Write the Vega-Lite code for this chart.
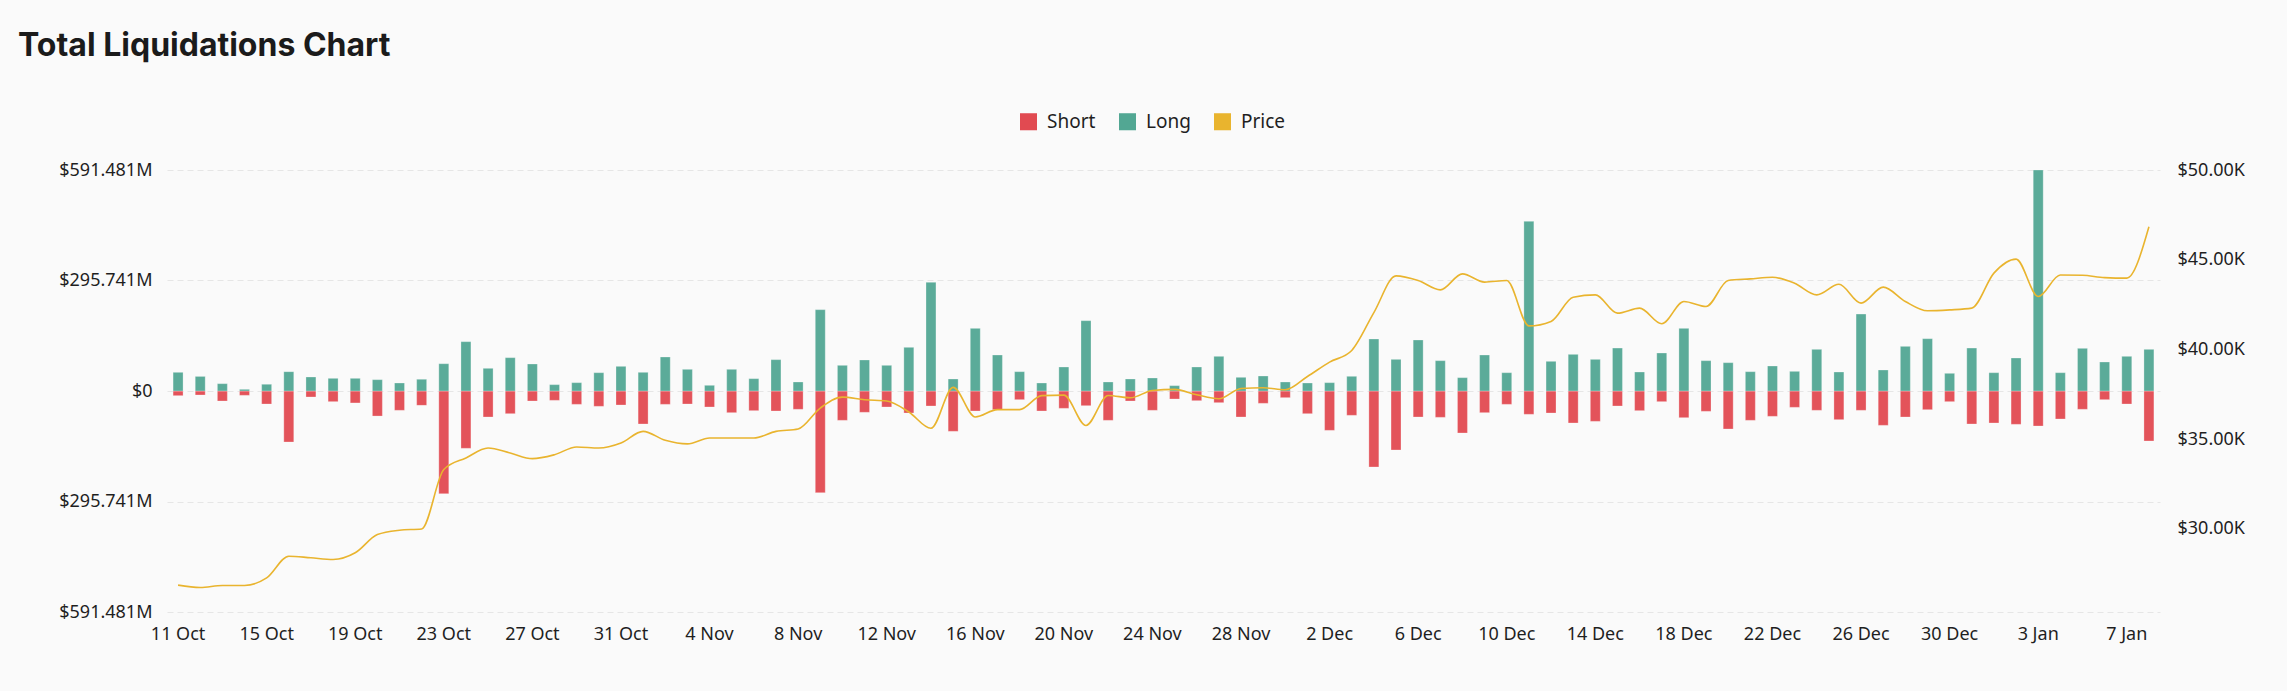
{
  "$schema": "https://vega.github.io/schema/vega-lite/v6.json",
  "background": "#FAFAFA",
  "autosize": {"type": "none"},
  "padding": {"left": 167, "top": 170, "right": 127, "bottom": 79},
  "width": 1993,
  "height": 442,
  "title": {
    "text": "Total Liquidations Chart",
    "anchor": "start",
    "frame": "group",
    "dx": -149,
    "offset": 49,
    "font": "Inter",
    "fontSize": 32,
    "fontWeight": "bold",
    "color": "#1b1b1b"
  },
  "data": {
    "values": [
      {"date": "11 Oct", "Long": 50, "Short": -12.5, "price": 26860},
      {"date": "12 Oct", "Long": 39, "Short": -10.7, "price": 26730},
      {"date": "13 Oct", "Long": 19.6, "Short": -26.8, "price": 26840},
      {"date": "14 Oct", "Long": 4.5, "Short": -11.6, "price": 26840},
      {"date": "15 Oct", "Long": 17.8, "Short": -34.8, "price": 27260},
      {"date": "16 Oct", "Long": 51.7, "Short": -136.5, "price": 28470},
      {"date": "17 Oct", "Long": 37.5, "Short": -16, "price": 28380},
      {"date": "18 Oct", "Long": 33.9, "Short": -28.5, "price": 28290},
      {"date": "19 Oct", "Long": 33.9, "Short": -32, "price": 28660},
      {"date": "20 Oct", "Long": 30.3, "Short": -67, "price": 29680},
      {"date": "21 Oct", "Long": 21.4, "Short": -51.7, "price": 29920},
      {"date": "22 Oct", "Long": 31.2, "Short": -38.4, "price": 29990},
      {"date": "23 Oct", "Long": 73, "Short": -274.8, "price": 33300},
      {"date": "24 Oct", "Long": 132, "Short": -153.4, "price": 33950},
      {"date": "25 Oct", "Long": 60.7, "Short": -69.6, "price": 34500},
      {"date": "26 Oct", "Long": 89.2, "Short": -60.7, "price": 34220},
      {"date": "27 Oct", "Long": 72.3, "Short": -26.8, "price": 33910},
      {"date": "28 Oct", "Long": 17, "Short": -25, "price": 34130},
      {"date": "29 Oct", "Long": 22.3, "Short": -35.7, "price": 34560},
      {"date": "30 Oct", "Long": 49, "Short": -41, "price": 34500},
      {"date": "31 Oct", "Long": 66, "Short": -37.5, "price": 34780},
      {"date": "1 Nov", "Long": 50, "Short": -88.3, "price": 35430},
      {"date": "2 Nov", "Long": 91, "Short": -35.7, "price": 34930},
      {"date": "3 Nov", "Long": 58, "Short": -34.8, "price": 34730},
      {"date": "4 Nov", "Long": 15.2, "Short": -42.8, "price": 35060},
      {"date": "5 Nov", "Long": 58, "Short": -58, "price": 35060},
      {"date": "6 Nov", "Long": 33, "Short": -52.6, "price": 35060},
      {"date": "7 Nov", "Long": 83.9, "Short": -53.5, "price": 35430},
      {"date": "8 Nov", "Long": 24.1, "Short": -49, "price": 35560},
      {"date": "9 Nov", "Long": 217.7, "Short": -272, "price": 36730},
      {"date": "10 Nov", "Long": 68.7, "Short": -78.5, "price": 37340},
      {"date": "11 Nov", "Long": 83, "Short": -57, "price": 37190},
      {"date": "12 Nov", "Long": 68.7, "Short": -42.8, "price": 37120},
      {"date": "13 Nov", "Long": 116.9, "Short": -58.9, "price": 36510},
      {"date": "14 Nov", "Long": 290.8, "Short": -40.1, "price": 35600},
      {"date": "15 Nov", "Long": 32.1, "Short": -107.9, "price": 37880},
      {"date": "16 Nov", "Long": 167.7, "Short": -53.5, "price": 36230},
      {"date": "17 Nov", "Long": 96.3, "Short": -50, "price": 36640},
      {"date": "18 Nov", "Long": 51.7, "Short": -23.2, "price": 36640},
      {"date": "19 Nov", "Long": 21.4, "Short": -53.5, "price": 37420},
      {"date": "20 Nov", "Long": 64.2, "Short": -46.4, "price": 37450},
      {"date": "21 Nov", "Long": 188.2, "Short": -39.3, "price": 35760},
      {"date": "22 Nov", "Long": 24.1, "Short": -78.5, "price": 37430},
      {"date": "23 Nov", "Long": 32.1, "Short": -26.8, "price": 37300},
      {"date": "24 Nov", "Long": 34.8, "Short": -51.7, "price": 37710},
      {"date": "25 Nov", "Long": 14.3, "Short": -21.4, "price": 37770},
      {"date": "26 Nov", "Long": 64.2, "Short": -25.9, "price": 37470},
      {"date": "27 Nov", "Long": 92.8, "Short": -31.2, "price": 37250},
      {"date": "28 Nov", "Long": 36.6, "Short": -69.6, "price": 37820},
      {"date": "29 Nov", "Long": 40.1, "Short": -33, "price": 37860},
      {"date": "30 Nov", "Long": 24.1, "Short": -17.8, "price": 37750},
      {"date": "1 Dec", "Long": 21.4, "Short": -60.7, "price": 38490},
      {"date": "2 Dec", "Long": 22.3, "Short": -105.3, "price": 39290},
      {"date": "3 Dec", "Long": 39.3, "Short": -65.1, "price": 39940},
      {"date": "4 Dec", "Long": 139.2, "Short": -203.4, "price": 42050},
      {"date": "5 Dec", "Long": 84.7, "Short": -157.9, "price": 44100},
      {"date": "6 Dec", "Long": 136.5, "Short": -69.6, "price": 43840},
      {"date": "7 Dec", "Long": 81.2, "Short": -70.5, "price": 43320},
      {"date": "8 Dec", "Long": 35.7, "Short": -112.4, "price": 44210},
      {"date": "9 Dec", "Long": 96.3, "Short": -58, "price": 43750},
      {"date": "10 Dec", "Long": 49, "Short": -35.7, "price": 43840},
      {"date": "11 Dec", "Long": 454, "Short": -62.4, "price": 41310},
      {"date": "12 Dec", "Long": 79.4, "Short": -58.9, "price": 41560},
      {"date": "13 Dec", "Long": 98.1, "Short": -85.6, "price": 42910},
      {"date": "14 Dec", "Long": 84.7, "Short": -81.2, "price": 43040},
      {"date": "15 Dec", "Long": 115, "Short": -40.1, "price": 42020},
      {"date": "16 Dec", "Long": 50.8, "Short": -52.6, "price": 42300},
      {"date": "17 Dec", "Long": 101.7, "Short": -28.5, "price": 41430},
      {"date": "18 Dec", "Long": 167.7, "Short": -71.4, "price": 42670},
      {"date": "19 Dec", "Long": 81.2, "Short": -54.4, "price": 42390},
      {"date": "20 Dec", "Long": 75.8, "Short": -101.7, "price": 43840},
      {"date": "21 Dec", "Long": 51.7, "Short": -78.5, "price": 43930},
      {"date": "22 Dec", "Long": 66.9, "Short": -67.8, "price": 44020},
      {"date": "23 Dec", "Long": 52.6, "Short": -43.7, "price": 43690},
      {"date": "24 Dec", "Long": 111.5, "Short": -51.7, "price": 43040},
      {"date": "25 Dec", "Long": 50.8, "Short": -76.7, "price": 43630},
      {"date": "26 Dec", "Long": 206, "Short": -51.7, "price": 42580},
      {"date": "27 Dec", "Long": 56.2, "Short": -91.9, "price": 43470},
      {"date": "28 Dec", "Long": 119.5, "Short": -69.6, "price": 42670},
      {"date": "29 Dec", "Long": 140, "Short": -50, "price": 42150},
      {"date": "30 Dec", "Long": 47.3, "Short": -28.5, "price": 42200},
      {"date": "31 Dec", "Long": 115, "Short": -88.3, "price": 42300},
      {"date": "1 Jan", "Long": 49, "Short": -85.6, "price": 44250},
      {"date": "2 Jan", "Long": 88.3, "Short": -89.2, "price": 45030},
      {"date": "3 Jan", "Long": 591.481, "Short": -93.7, "price": 42950},
      {"date": "4 Jan", "Long": 49, "Short": -74.9, "price": 44150},
      {"date": "5 Jan", "Long": 114.2, "Short": -49, "price": 44130},
      {"date": "6 Jan", "Long": 77.6, "Short": -23.2, "price": 44000},
      {"date": "7 Jan", "Long": 92.8, "Short": -34.8, "price": 43970},
      {"date": "8 Jan", "Long": 111.5, "Short": -133.8, "price": 46840}
    ]
  },
  "encoding": {
    "x": {
      "field": "date",
      "type": "ordinal",
      "sort": null,
      "title": null,
      "scale": {"paddingInner": 0.55, "paddingOuter": 0.275},
      "axis": {
        "values": ["11 Oct", "15 Oct", "19 Oct", "23 Oct", "27 Oct", "31 Oct", "4 Nov", "8 Nov", "12 Nov", "16 Nov", "20 Nov", "24 Nov", "28 Nov", "2 Dec", "6 Dec", "10 Dec", "14 Dec", "18 Dec", "22 Dec", "26 Dec", "30 Dec", "3 Jan", "7 Jan"],
        "labelAngle": 0,
        "domain": false,
        "ticks": false,
        "grid": false,
        "labelPadding": 13
      }
    }
  },
  "layer": [
    {
      "transform": [{"fold": ["Short", "Long"], "as": ["side", "amount"]}],
      "mark": {"type": "bar", "fillOpacity": 0.95, "stroke": "#ffffff", "strokeOpacity": 0.35, "strokeWidth": 0.8},
      "encoding": {
        "y": {
          "field": "amount",
          "type": "quantitative",
          "stack": null,
          "title": null,
          "scale": {"domain": [-591.481, 591.481], "nice": false},
          "axis": {
            "values": [-591.481, -295.741, 0, 295.741, 591.481],
            "labelExpr": "datum.value == 0 ? '$0' : '$' + format(abs(datum.value), '.3f') + 'M'",
            "domain": false,
            "ticks": false,
            "labelPadding": 15,
            "gridDash": [6, 4]
          }
        },
        "color": {
          "field": "side",
          "type": "nominal",
          "scale": {"domain": ["Short", "Long", "Price"], "range": ["#E14A51", "#52A793", "#E9B42E"]},
          "legend": {
            "title": null,
            "orient": "none",
            "legendX": 852,
            "legendY": -58,
            "direction": "horizontal",
            "symbolType": "square",
            "symbolSize": 290,
            "symbolStrokeWidth": 0,
            "labelFontSize": 19,
            "labelOffset": 9,
            "columnPadding": 22
          }
        }
      }
    },
    {
      "mark": {"type": "line", "interpolate": "monotone", "strokeWidth": 1.6},
      "encoding": {
        "y": {
          "field": "price",
          "type": "quantitative",
          "title": null,
          "scale": {"domain": [25360, 50000], "nice": false, "zero": false},
          "axis": {
            "orient": "right",
            "values": [30000, 35000, 40000, 45000, 50000],
            "labelExpr": "'$' + format(datum.value / 1000, '.2f') + 'K'",
            "domain": false,
            "ticks": false,
            "labelPadding": 17,
            "gridDash": [6, 4]
          }
        },
        "color": {"datum": "Price"}
      }
    }
  ],
  "resolve": {"scale": {"y": "independent"}},
  "config": {
    "view": {"stroke": null},
    "font": "Noto Sans",
    "axis": {
      "labelFont": "Noto Sans",
      "labelFontSize": 18,
      "labelColor": "#1f1f1f",
      "gridColor": "#E6E6E6",
      "gridWidth": 1
    },
    "legend": {"labelFont": "Noto Sans", "labelColor": "#1f1f1f"}
  }
}
